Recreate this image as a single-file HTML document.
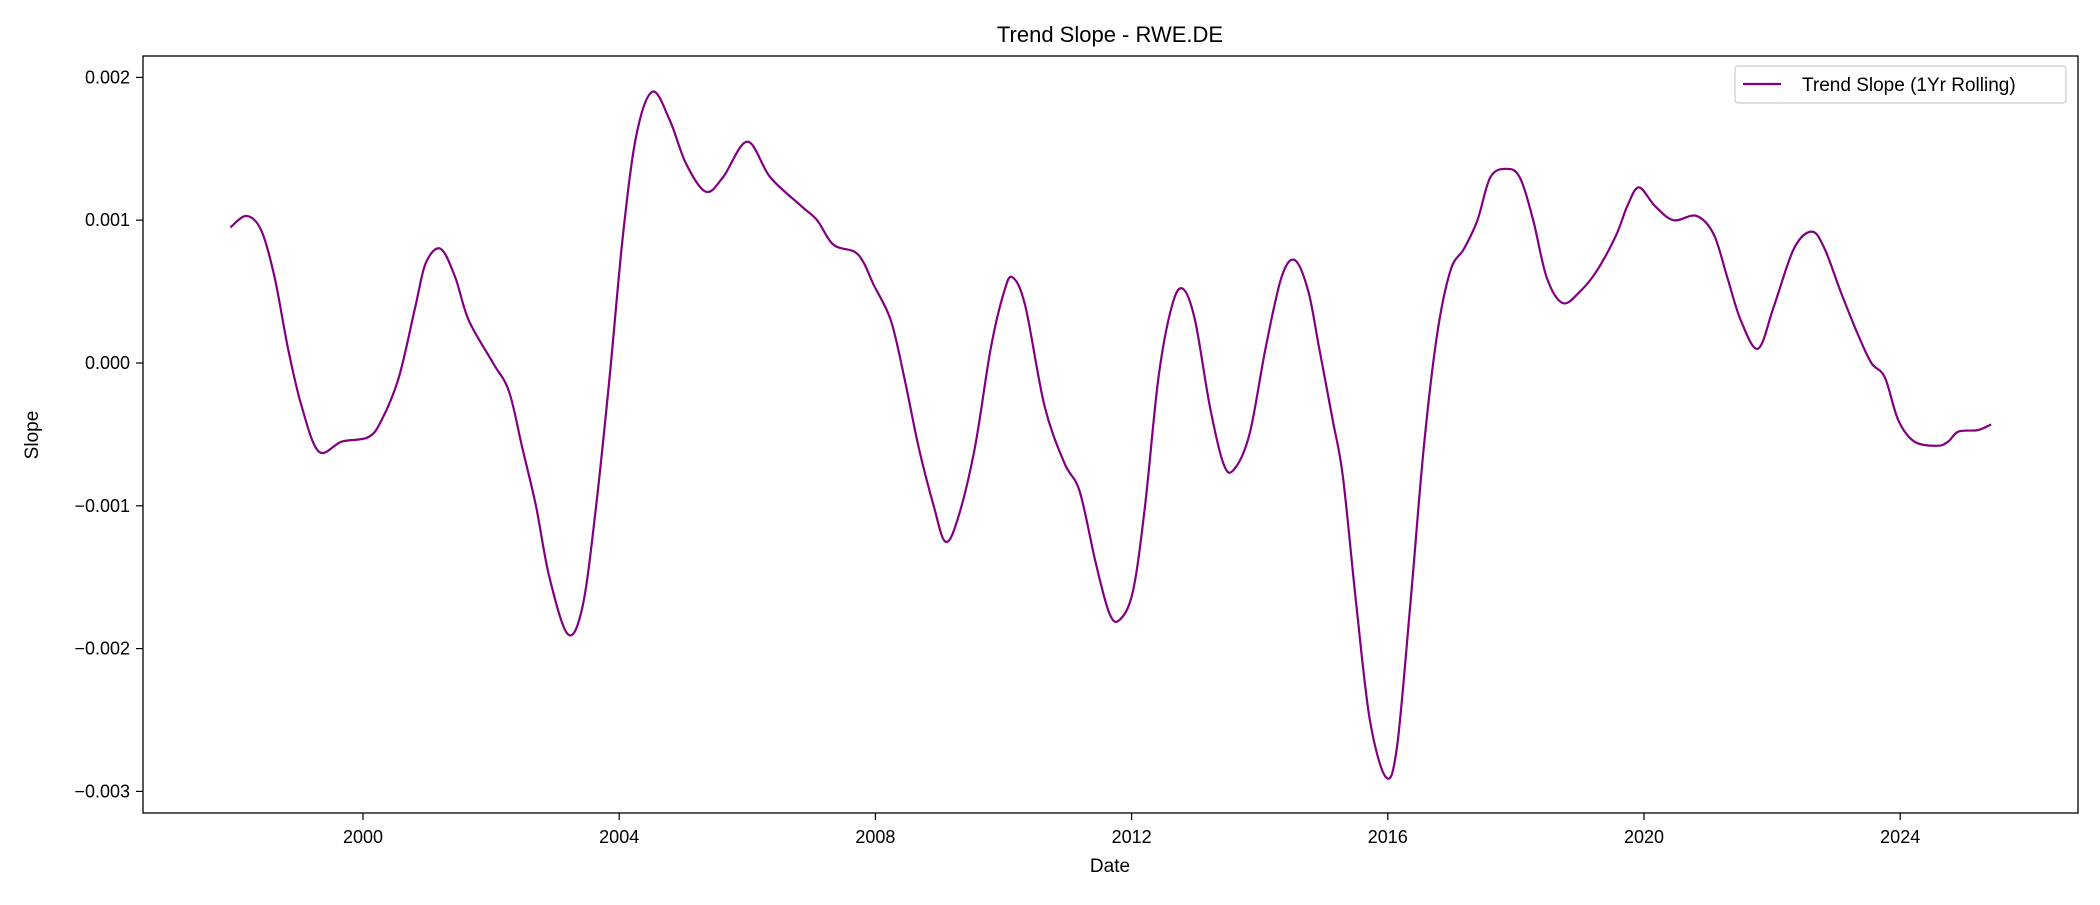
<!DOCTYPE html>
<html><head><meta charset="utf-8"><style>
body{margin:0;background:#fff;}
svg text{font-family:"Liberation Sans","DejaVu Sans",sans-serif;fill:#000;}
</style></head><body>
<svg id="chart" width="2100" height="900" xmlns="http://www.w3.org/2000/svg">
<rect width="2100" height="900" fill="#fff"/>
<text x="1110" y="42" font-size="22" text-anchor="middle">Trend Slope - RWE.DE</text>
<g id="axes"></g>
<g id="plot"></g>
<rect x="143" y="56" width="1935" height="757" fill="none" stroke="#000" stroke-width="1.3"/>
<g>
<rect x="1735" y="66" width="331" height="37" rx="3" fill="#fff" stroke="#ccc" stroke-width="1.2"/>
<line x1="1743" y1="84" x2="1781" y2="84" stroke="purple" stroke-width="2.2"/>
<text x="1802" y="91" font-size="19">Trend Slope (1Yr Rolling)</text>
</g>
<text x="1110" y="872" font-size="19" text-anchor="middle">Date</text>
<text x="38" y="435" font-size="19" text-anchor="middle" transform="rotate(-90 38 435)">Slope</text>
</svg>
<script>
const years=[1997.93,1998.18,1998.41,1998.62,1998.83,1999.04,1999.31,1999.67,2000.08,2000.29,2000.56,2000.82,2000.98,2001.21,2001.44,2001.65,2002.03,2002.28,2002.49,2002.70,2002.91,2003.2,2003.43,2003.64,2003.85,2004.06,2004.27,2004.52,2004.79,2005.04,2005.35,2005.62,2006.0,2006.36,2006.84,2007.09,2007.34,2007.67,2007.82,2007.97,2008.24,2008.45,2008.68,2008.91,2009.09,2009.28,2009.55,2009.80,2010.01,2010.14,2010.34,2010.64,2010.95,2011.19,2011.44,2011.65,2011.81,2012.02,2012.21,2012.42,2012.63,2012.80,2012.99,2013.22,2013.43,2013.59,2013.84,2014.09,2014.34,2014.55,2014.76,2014.93,2015.14,2015.30,2015.51,2015.72,2015.97,2016.14,2016.35,2016.56,2016.77,2016.98,2017.19,2017.40,2017.60,2017.85,2018.06,2018.27,2018.48,2018.73,2019.0,2019.27,2019.57,2019.74,2019.92,2020.17,2020.46,2020.82,2021.09,2021.30,2021.51,2021.78,2022.03,2022.34,2022.62,2022.82,2023.07,2023.34,2023.55,2023.76,2023.97,2024.22,2024.58,2024.75,2024.91,2025.21,2025.42];
const slopes=[0.00095,0.00103,0.00093,0.0006,0.0001,-0.0003,-0.00062,-0.00055,-0.00052,-0.0004,-0.0001,0.0004,0.0007,0.0008,0.0006,0.0003,0.0,-0.0002,-0.0006,-0.001,-0.0015,-0.0019,-0.0017,-0.001,-0.0001,0.0009,0.0016,0.0019,0.0017,0.0014,0.0012,0.0013,0.00155,0.0013,0.0011,0.001,0.00083,0.00078,0.0007,0.00055,0.0003,-0.0001,-0.0006,-0.001,-0.00125,-0.0011,-0.0006,0.0001,0.0005,0.0006,0.0004,-0.0003,-0.0007,-0.0009,-0.0014,-0.00175,-0.0018,-0.0016,-0.001,-0.0001,0.0004,0.00052,0.0003,-0.0003,-0.0007,-0.00075,-0.0005,0.0001,0.0006,0.00072,0.0005,0.0001,-0.0004,-0.0008,-0.0017,-0.0025,-0.0029,-0.0027,-0.0017,-0.0006,0.0002,0.00065,0.0008,0.001,0.0013,0.00136,0.0013,0.001,0.0006,0.00042,0.0005,0.00065,0.0009,0.0011,0.00123,0.0011,0.001,0.00103,0.0009,0.0006,0.0003,0.0001,0.0004,0.0008,0.00092,0.0008,0.0005,0.0002,0.0,-0.0001,-0.0004,-0.00055,-0.00058,-0.00055,-0.00048,-0.00047,-0.00043];
const xTicks=[2000,2004,2008,2012,2016,2020,2024];
const yTicks=[0.002,0.001,0,-0.001,-0.002,-0.003];
const yTickLabels=["0.002","0.001","0.000","\u22120.001","\u22120.002","\u22120.003"];
const NS="http://www.w3.org/2000/svg";
function xs(v){return 363+(v-2000)*64.05;}
function ys(v){return 363-v*142800;}
const axes=document.getElementById('axes');
xTicks.forEach(t=>{
 const l=document.createElementNS(NS,'line');
 l.setAttribute('x1',xs(t));l.setAttribute('x2',xs(t));l.setAttribute('y1',813);l.setAttribute('y2',820);
 l.setAttribute('stroke','#000');l.setAttribute('stroke-width','1.2');
 
 
 axes.appendChild(l);
 const tx=document.createElementNS(NS,'text');
 tx.setAttribute('x',xs(t));tx.setAttribute('y',843);tx.setAttribute('font-size','18');tx.setAttribute('text-anchor','middle');
 tx.textContent=t;
 
 
 axes.appendChild(tx);
});
yTicks.forEach((t,i)=>{
 const l=document.createElementNS(NS,'line');
 l.setAttribute('x1',136);l.setAttribute('x2',143);l.setAttribute('y1',ys(t));l.setAttribute('y2',ys(t));
 l.setAttribute('stroke','#000');l.setAttribute('stroke-width','1.2');
 
 
 axes.appendChild(l);
 const tx=document.createElementNS(NS,'text');
 tx.setAttribute('x',130);tx.setAttribute('y',ys(t)+6);tx.setAttribute('font-size','18');tx.setAttribute('text-anchor','end');
 tx.textContent=yTickLabels[i];
 
 
 axes.appendChild(tx);
});
const pts=years.map((y,i)=>[xs(y),ys(slopes[i])]);
let d='M'+pts[0][0]+','+pts[0][1];
for(let i=0;i<pts.length-1;i++){
 const p0=pts[Math.max(0,i-1)],p1=pts[i],p2=pts[i+1],p3=pts[Math.min(pts.length-1,i+2)];
 const c1=[p1[0]+(p2[0]-p0[0])/6,p1[1]+(p2[1]-p0[1])/6];
 const c2=[p2[0]-(p3[0]-p1[0])/6,p2[1]-(p3[1]-p1[1])/6];
 d+=' C'+c1.join(',')+' '+c2.join(',')+' '+p2.join(',');
}
const path=document.createElementNS(NS,'path');
path.setAttribute('d',d);path.setAttribute('fill','none');path.setAttribute('stroke','purple');path.setAttribute('stroke-width','2.2');


document.getElementById('plot').appendChild(path);
</script>
</body></html>
